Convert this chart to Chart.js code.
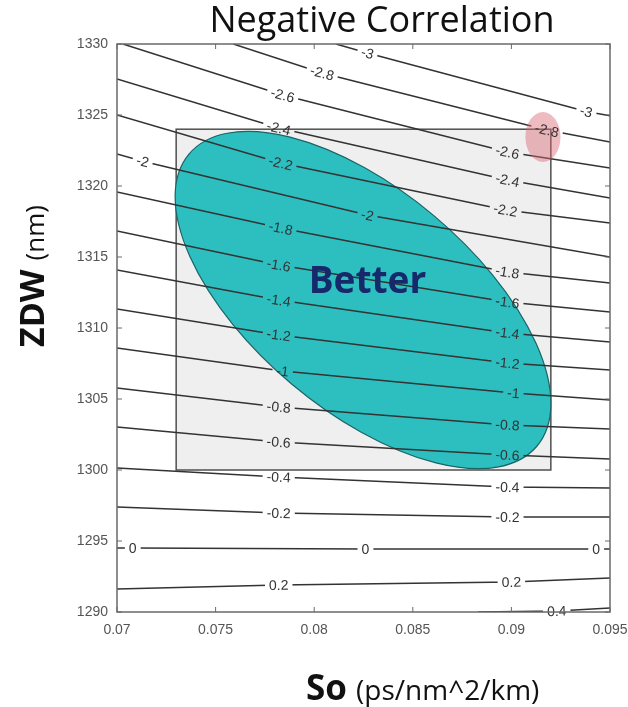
<!DOCTYPE html>
<html>
<head>
<meta charset="utf-8">
<script src="https://cdn.jsdelivr.net/npm/chart.js@4.4.1/dist/chart.umd.min.js"></script>
<style>
    html, body { margin: 0; padding: 0; background: #fff; }
    #wrap { width: 628px; height: 707px; }
</style>
</head>
<body>
<div id="wrap"><canvas id="chart" width="628" height="707"></canvas></div>
<script>
// Eixos
const xTicks = [0.07, 0.075, 0.08, 0.085, 0.09, 0.095];
const xTickLabels = ['0.07', '0.075', '0.08', '0.085', '0.09', '0.095'];
const yTicks = [1290, 1295, 1300, 1305, 1310, 1315, 1320, 1325, 1330];
const yTickLabels = ['1290', '1295', '1300', '1305', '1310', '1315', '1320', '1325', '1330'];

// Curvas de nível (So, ZDW)
const contourLabels = ['-3', '-2.8', '-2.6', '-2.4', '-2.2', '-2', '-1.8', '-1.6', '-1.4',
    '-1.2', '-1', '-0.8', '-0.6', '-0.4', '-0.2', '0', '0.2', '0.4'];
const contourPaths = [
    [[0.0811, 1330], [0.0827, 1329.37], [0.0938, 1325.25], [0.095, 1324.95]],
    [[0.0759, 1330], [0.0804, 1327.96], [0.0918, 1323.94], [0.095, 1323.10]],
    [[0.0703, 1330], [0.0784, 1326.41], [0.0898, 1322.39], [0.095, 1321.27]],
    [[0.07, 1327.54], [0.0782, 1324.08], [0.0898, 1320.42], [0.095, 1319.15]],
    [[0.07, 1325.0], [0.0783, 1321.62], [0.0897, 1318.31], [0.095, 1317.39]],
    [[0.07, 1322.25], [0.0713, 1321.75], [0.0827, 1317.96], [0.095, 1315.0]],
    [[0.07, 1319.58], [0.0783, 1317.04], [0.0898, 1313.94], [0.095, 1313.17]],
    [[0.07, 1316.83], [0.0782, 1314.44], [0.0898, 1311.83], [0.095, 1311.13]],
    [[0.07, 1314.08], [0.0782, 1311.97], [0.0898, 1309.65], [0.095, 1309.01]],
    [[0.07, 1311.34], [0.0782, 1309.51], [0.0898, 1307.54], [0.095, 1307.04]],
    [[0.07, 1308.59], [0.0784, 1306.97], [0.0901, 1305.42], [0.095, 1304.93]],
    [[0.07, 1305.77], [0.0782, 1304.44], [0.0898, 1303.17], [0.095, 1302.89]],
    [[0.07, 1303.03], [0.0782, 1301.97], [0.0898, 1301.06], [0.095, 1300.77]],
    [[0.07, 1300.14], [0.0782, 1299.51], [0.0898, 1298.80], [0.095, 1298.73]],
    [[0.07, 1297.39], [0.0782, 1296.97], [0.0898, 1296.69], [0.095, 1296.69]],
    [[0.07, 1294.51], [0.0708, 1294.51], [0.0826, 1294.44], [0.0943, 1294.44], [0.095, 1294.44]],
    [[0.07, 1291.62], [0.0782, 1291.90], [0.0900, 1292.11], [0.095, 1292.39]],
    [[0.0883, 1290], [0.0923, 1290.07], [0.095, 1290.28]]
];
// índices dos pontos de cada curva onde o valor é escrito
const labelAt = [
    [1, 2], [1, 2], [1, 2], [1, 2], [1, 2], [1, 2], [1, 2], [1, 2], [1, 2],
    [1, 2], [1, 2], [1, 2], [1, 2], [1, 2], [1, 2], [1, 2, 3], [1, 2], [1]
];

// Regiões marcadas
const windowBox = { xMin: 0.073, xMax: 0.092, yMin: 1300, yMax: 1324 };
const betterRegion = { from: [0.07365, 1322.25], to: [0.0913, 1301.69], widthRatio: 0.485 };
const worseSpot = { x: 0.0916, y: 1323.45, rx: 0.00089, ry: 1.76 };
const betterText = { x: 0.0827, y: 1313.2, text: 'Better' };

document.addEventListener('DOMContentLoaded', function() {
    const labelFont = '14px "Liberation Sans", Arial, sans-serif';

    // posição em pixels + ângulo local da curva para cada rótulo
    const labelGeometry = (chart, i) => {
        const xs = chart.scales.x, ys = chart.scales.y;
        const path = contourPaths[i];
        const px = p => [xs.getPixelForValue(p[0]), ys.getPixelForValue(p[1])];
        return labelAt[i].map(k => {
            const a = px(path[Math.max(k - 1, 0)]);
            const b = px(path[Math.min(k + 1, path.length - 1)]);
            const c = px(path[k]);
            return { x: c[0], y: c[1], angle: Math.atan2(b[1] - a[1], b[0] - a[0]), text: contourLabels[i] };
        });
    };

    const contourPlugin = {
        id: 'contourDecor',
        beforeDatasetsDraw(chart) {
            const { ctx } = chart;
            const xs = chart.scales.x, ys = chart.scales.y;

            // janela cinza
            const l = xs.getPixelForValue(windowBox.xMin), r = xs.getPixelForValue(windowBox.xMax);
            const t = ys.getPixelForValue(windowBox.yMax), b = ys.getPixelForValue(windowBox.yMin);
            ctx.save();
            ctx.fillStyle = '#efefef';
            ctx.fillRect(l, t, r - l, b - t);
            ctx.strokeStyle = '#505050';
            ctx.lineWidth = 1.5;
            ctx.strokeRect(l, t, r - l, b - t);

            // elipse "Better"
            const p1 = [xs.getPixelForValue(betterRegion.from[0]), ys.getPixelForValue(betterRegion.from[1])];
            const p2 = [xs.getPixelForValue(betterRegion.to[0]), ys.getPixelForValue(betterRegion.to[1])];
            const cx = (p1[0] + p2[0]) / 2, cy = (p1[1] + p2[1]) / 2;
            const semi = Math.hypot(p2[0] - p1[0], p2[1] - p1[1]) / 2;
            const ang = Math.atan2(p2[1] - p1[1], p2[0] - p1[0]);
            ctx.beginPath();
            ctx.ellipse(cx, cy, semi, semi * betterRegion.widthRatio, ang, 0, Math.PI * 2);
            ctx.fillStyle = '#2dbfc0';
            ctx.fill();
            ctx.strokeStyle = '#1a6466';
            ctx.lineWidth = 1.2;
            ctx.stroke();
            ctx.restore();
        },
        beforeDatasetDraw(chart, args) {
            // abre espaço para os rótulos na própria curva
            const { ctx } = chart;
            ctx.save();
            ctx.font = labelFont;
            ctx.beginPath();
            ctx.rect(0, 0, chart.width, chart.height);
            labelGeometry(chart, args.index).forEach(g => {
                const hw = ctx.measureText(g.text).width / 2 + 4, hh = 7;
                const c = Math.cos(g.angle), s = Math.sin(g.angle);
                const pts = [[-hw, -hh], [hw, -hh], [hw, hh], [-hw, hh]].map(([u, v]) =>
                    [g.x + u * c - v * s, g.y + u * s + v * c]);
                ctx.moveTo(pts[0][0], pts[0][1]);
                for (let k = 1; k < 4; k++) ctx.lineTo(pts[k][0], pts[k][1]);
                ctx.closePath();
            });
            ctx.clip('evenodd');
        },
        afterDatasetDraw(chart) {
            chart.ctx.restore();
        },
        afterDatasetsDraw(chart) {
            const { ctx, chartArea: area } = chart;
            const xs = chart.scales.x, ys = chart.scales.y;

            // ponto rosa
            ctx.save();
            const sx = xs.getPixelForValue(worseSpot.x), sy = ys.getPixelForValue(worseSpot.y);
            const srx = Math.abs(xs.getPixelForValue(worseSpot.x + worseSpot.rx) - sx);
            const sry = Math.abs(ys.getPixelForValue(worseSpot.y + worseSpot.ry) - sy);
            ctx.beginPath();
            ctx.ellipse(sx, sy, srx, sry, 0, 0, Math.PI * 2);
            ctx.fillStyle = 'rgba(214, 105, 115, 0.45)';
            ctx.fill();

            // rótulos das curvas
            ctx.font = labelFont;
            ctx.fillStyle = '#333';
            ctx.textAlign = 'center';
            ctx.textBaseline = 'middle';
            contourPaths.forEach((_, i) => {
                labelGeometry(chart, i).forEach(g => {
                    ctx.save();
                    ctx.translate(g.x, g.y);
                    ctx.rotate(g.angle);
                    ctx.fillText(g.text, 0, 1);
                    ctx.restore();
                });
            });

            // texto "Better"
            ctx.font = 'bold 37px "Open Sans", sans-serif';
            ctx.fillStyle = '#15296b';
            ctx.fillText(betterText.text, xs.getPixelForValue(betterText.x), ys.getPixelForValue(betterText.y));

            // moldura e marcas internas
            ctx.strokeStyle = '#6a6a6a';
            ctx.lineWidth = 1.5;
            ctx.strokeRect(area.left, area.top, area.right - area.left, area.bottom - area.top);
            ctx.lineWidth = 1;
            ctx.beginPath();
            xTicks.forEach(v => {
                const p = xs.getPixelForValue(v);
                ctx.moveTo(p, area.bottom); ctx.lineTo(p, area.bottom - 5);
                ctx.moveTo(p, area.top); ctx.lineTo(p, area.top + 5);
            });
            yTicks.forEach(v => {
                const p = ys.getPixelForValue(v);
                ctx.moveTo(area.left, p); ctx.lineTo(area.left + 5, p);
                ctx.moveTo(area.right, p); ctx.lineTo(area.right - 5, p);
            });
            ctx.stroke();
            ctx.restore();
        },
        afterDraw(chart) {
            const { ctx } = chart;
            ctx.save();
            ctx.fillStyle = '#111';
            ctx.textBaseline = 'alphabetic';

            // título
            ctx.font = '36px "Open Sans", sans-serif';
            ctx.textAlign = 'center';
            ctx.fillText('Negative Correlation', 382, 32);

            // título do eixo x
            ctx.textAlign = 'left';
            ctx.font = 'bold 35px "Open Sans", sans-serif';
            ctx.fillText('So', 306, 700);
            const soW = ctx.measureText('So ').width;
            ctx.font = '28px "Open Sans", sans-serif';
            ctx.fillText('(ps/nm^2/km)', 306 + soW, 700);

            // título do eixo y
            ctx.translate(44, 347);
            ctx.rotate(-Math.PI / 2);
            ctx.font = 'bold 34px "Open Sans", sans-serif';
            ctx.fillText('ZDW', 0, 0);
            const zW = ctx.measureText('ZDW ').width;
            ctx.font = '26px "Open Sans", sans-serif';
            ctx.fillText('(nm)', zW, 0);
            ctx.restore();
        }
    };

    const tickFont = { family: '"Liberation Sans", Arial, sans-serif', size: 14 };

    new Chart(document.getElementById('chart'), {
        type: 'scatter',
        data: {
            datasets: contourPaths.map((path, i) => ({
                label: contourLabels[i],
                data: path.map(([x, y]) => ({ x, y })),
                showLine: true,
                borderColor: '#333',
                borderWidth: 1.5,
                pointRadius: 0,
                tension: 0
            }))
        },
        options: {
            responsive: false,
            devicePixelRatio: 1,
            animation: false,
            layout: { padding: { left: 0, top: 44, right: 18, bottom: 55 } },
            plugins: {
                legend: { display: false },
                tooltip: { enabled: false }
            },
            scales: {
                x: {
                    type: 'linear',
                    min: 0.07,
                    max: 0.095,
                    grid: { display: false, drawTicks: false },
                    border: { display: false },
                    ticks: {
                        padding: 10,
                        color: '#555',
                        font: tickFont,
                        maxRotation: 0,
                        autoSkip: false,
                        callback: (v, i) => xTickLabels[i]
                    },
                    afterBuildTicks: s => { s.ticks = xTicks.map(v => ({ value: v })); },
                    afterFit: s => { s.height = 40; s.paddingLeft = 0; s.paddingRight = 0; }
                },
                y: {
                    type: 'linear',
                    min: 1290,
                    max: 1330,
                    grid: { display: false, drawTicks: false },
                    border: { display: false },
                    ticks: {
                        padding: 9,
                        color: '#555',
                        font: tickFont,
                        autoSkip: false,
                        callback: (v, i) => yTickLabels[i]
                    },
                    afterBuildTicks: s => { s.ticks = yTicks.map(v => ({ value: v })); },
                    afterFit: s => { s.width = 117; s.paddingTop = 0; s.paddingBottom = 0; }
                }
            }
        },
        plugins: [contourPlugin]
    });
});
</script>
</body>
</html>
